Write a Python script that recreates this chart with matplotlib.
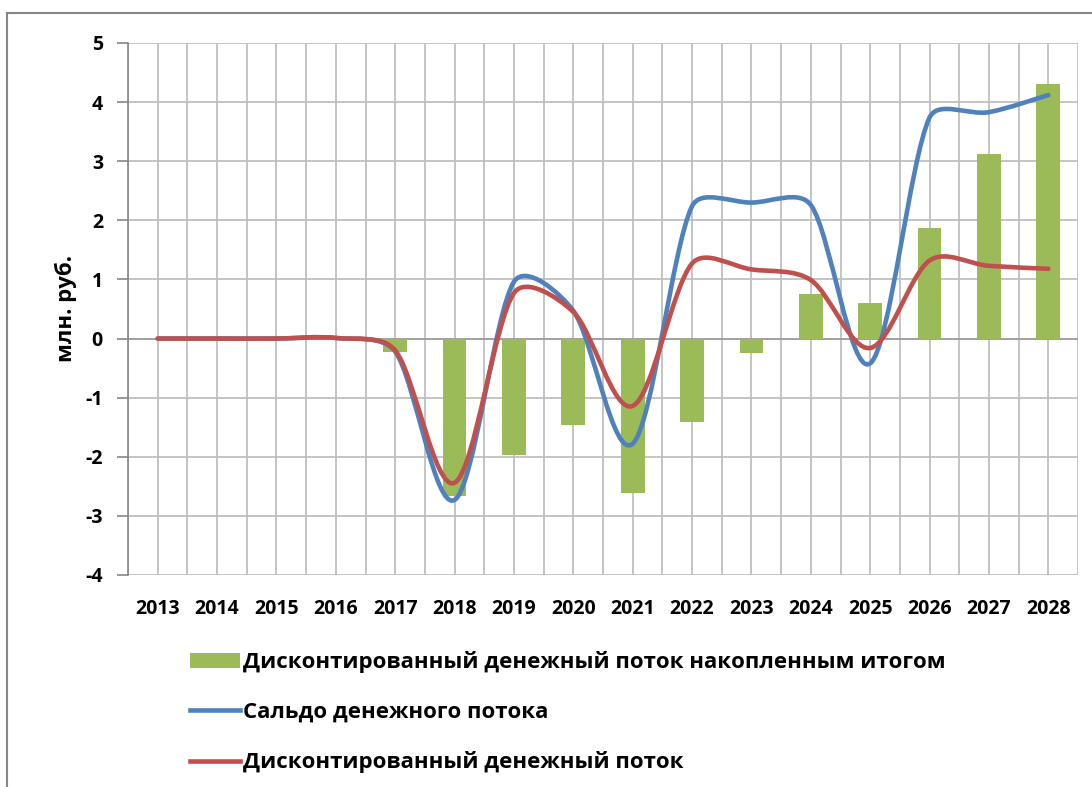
import matplotlib
matplotlib.use('Agg')
import math
import matplotlib.pyplot as plt
from matplotlib.path import Path
from matplotlib.patches import PathPatch, Rectangle
from matplotlib.lines import Line2D

years = ['2013', '2014', '2015', '2016', '2017', '2018', '2019', '2020',
         '2021', '2022', '2023', '2024', '2025', '2026', '2027', '2028']
dcf_cumulative = [0, 0, 0, 0, -0.23, -2.67, -1.97, -1.47, -2.61, -1.42,
                  -0.24, 0.75, 0.60, 1.87, 3.12, 4.31]
cash_balance = [0, 0, 0, 0.01, -0.22, -2.73, 0.96, 0.47, -1.78, 2.24,
                2.30, 2.26, -0.42, 3.74, 3.83, 4.12]
dcf = [0, 0, 0, 0.01, -0.2, -2.44, 0.77, 0.45, -1.14, 1.27,
       1.17, 0.99, -0.16, 1.32, 1.23, 1.18]

label_bars = 'Дисконтированный денежный поток накопленным итогом'
label_balance = 'Сальдо денежного потока'
label_dcf = 'Дисконтированный денежный поток'

GREEN = '#9BBB59'
BLUE = '#4F81BD'
RED = '#C0504D'
GRID = '#BFBFBF'

plt.rcParams['font.family'] = ['Open Sans', 'DejaVu Sans']
plt.rcParams['font.weight'] = 'bold'
plt.rcParams['axes.unicode_minus'] = False


def SmoothPath(xs, ys):
    # excel-like smoothing: catmull-rom bezier handles (1/6),
    # clipped to a third of the segment so short segments don't overshoot
    n = len(xs)
    verts = [(xs[0], ys[0])]
    codes = [Path.MOVETO]
    for i in range(n - 1):
        x0, y0 = xs[max(i - 1, 0)], ys[max(i - 1, 0)]
        x1, y1 = xs[i], ys[i]
        x2, y2 = xs[i + 1], ys[i + 1]
        x3, y3 = xs[min(i + 2, n - 1)], ys[min(i + 2, n - 1)]
        seg = math.hypot(x2 - x1, y2 - y1)
        d02 = math.hypot(x2 - x0, y2 - y0)
        d13 = math.hypot(x3 - x1, y3 - y1)
        f1 = 1.0 / 6
        f2 = 1.0 / 6
        if d02 / 6 > seg / 3:
            f1 = seg / 3 / d02
        if d13 / 6 > seg / 3:
            f2 = seg / 3 / d13
        c1 = (x1 + (x2 - x0) * f1, y1 + (y2 - y0) * f1)
        c2 = (x2 - (x3 - x1) * f2, y2 - (y3 - y1) * f2)
        verts += [c1, c2, (x2, y2)]
        codes += [Path.CURVE4, Path.CURVE4, Path.CURVE4]
    return Path(verts, codes)


fig = plt.figure(figsize=(10.92, 7.87), dpi=100)
ax = fig.add_axes([128 / 1092, 1 - 575 / 787, (1078 - 128) / 1092, (575 - 43) / 787])

xs = list(range(len(years)))

# grid
for k in range(len(years) * 2 + 1):
    ax.axvline(-0.5 + k * 0.5, color=GRID, lw=1.3, zorder=0)
for v in range(-4, 6):
    ax.axhline(v, color=GRID if v != 0 else '#999999', lw=1.3, zorder=0)

ax.bar(xs, dcf_cumulative, width=0.4, color=GREEN, zorder=2)

for vals, col in [(cash_balance, BLUE), (dcf, RED)]:
    p = PathPatch(SmoothPath(xs, vals), facecolor='none', edgecolor=col,
                  lw=3.3, capstyle='round', joinstyle='round', zorder=3)
    ax.add_patch(p)

ax.set_xlim(-0.5, len(years) - 0.5)
ax.set_ylim(-4, 5)
ax.set_yticks(range(-4, 6))
ax.set_xticks(xs)
ax.set_xticklabels(years)
ax.tick_params(axis='x', length=0, pad=17, labelsize=14)
ax.tick_params(axis='y', length=8, width=1.2, color='#868686', pad=10, labelsize=14)
for s in ['top', 'right', 'bottom']:
    ax.spines[s].set_visible(False)
ax.spines['left'].set_color('#868686')
ax.spines['left'].set_linewidth(1.2)
ax.set_ylabel('млн. руб.', fontsize=16, fontweight='bold', labelpad=6)

handles = [Rectangle((0, 0), 1, 1, facecolor=GREEN, edgecolor='none'),
           Line2D([], [], color=BLUE, lw=3.3),
           Line2D([], [], color=RED, lw=3.3)]
fig.legend(handles, [label_bars, label_balance, label_dcf],
           loc='upper left', bbox_to_anchor=(190 / 1092, 1 - 651 / 787),
           frameon=False, fontsize=16, handlelength=2.25, handleheight=0.68,
           handletextpad=0.12, labelspacing=1.29, borderaxespad=0,
           borderpad=0)

# chart area border (only top/left visible in the crop)
fig.patches.append(Rectangle((7 / 1092, -0.1), 1.2, 1 - 13 / 787 + 0.1,
                             transform=fig.transFigure, fill=False,
                             edgecolor='#868686', lw=1.5))

fig.savefig('out.png', dpi=100)
